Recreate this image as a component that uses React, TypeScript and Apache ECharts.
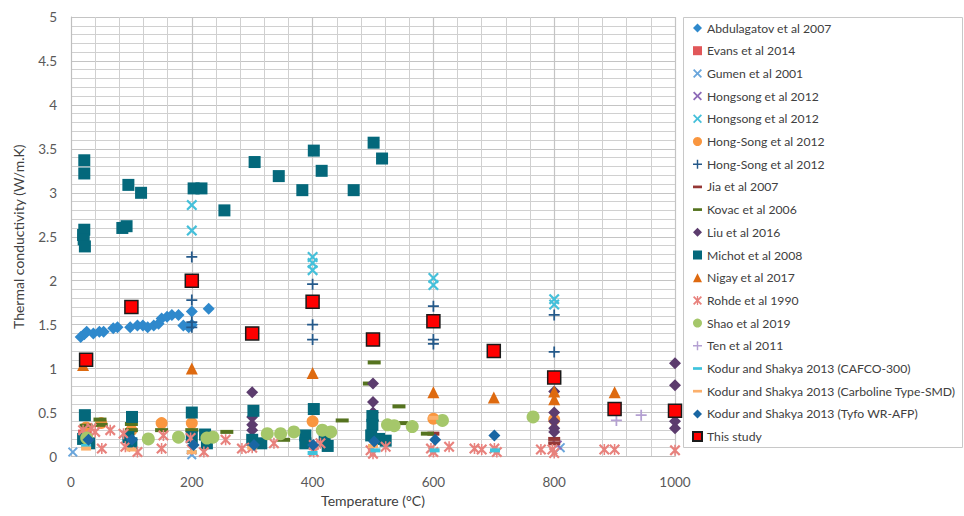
import React, { useEffect, useRef } from 'react';
import * as echarts from 'echarts';

// ---------- data (Temperature °C, Thermal conductivity W/m.K) ----------
const abdulagatov = [[16,1.36],[22,1.39],[26,1.42],[37,1.40],[47,1.42],[54,1.42],[70,1.46],[77,1.47],[98,1.47],[110,1.49],[119,1.49],[127,1.47],[137,1.49],[145,1.51],[150,1.57],[159,1.59],[167,1.61],[178,1.61],[186,1.49],[195,1.47],[200,1.65],[200,1.50],[228,1.68]];
const evans = [[20,0.25],[26,0.32]];
const gumen = [[3,0.05],[200,0.02],[810,0.1]];
const hongsongPurple = [[805,0.13]];
const hongsongCyan = [[200,2.86],[200,2.57],[400,2.27],[400,2.2],[400,2.12],[600,2.03],[600,1.95],[800,1.79],[800,1.73]];
const hongSongOrange = [[25,0.33],[50,0.38],[100,0.3],[150,0.38],[200,0.38],[400,0.4],[600,0.43],[800,0.42]];
const hongSongPlus = [[200,2.27],[200,1.78],[200,1.53],[200,1.47],[400,1.96],[400,1.5],[400,1.33],[600,1.71],[600,1.33],[600,1.28],[800,1.61],[800,1.19]];
const jia = [[600,0.26],[800,0.2],[800,0.15]];
const kovac = [[25,0.35],[48,0.42],[50,0.36],[100,0.37],[100,0.3],[150,0.3],[200,0.3],[258,0.28],[352,0.19],[449,0.41],[494,0.83],[502,1.07],[543,0.57],[547,0.38],[590,0.26]];
const liu = [[300,0.73],[300,0.45],[300,0.36],[300,0.3],[500,0.83],[500,0.62],[500,0.5],[500,0.41],[800,0.74],[800,0.5],[800,0.4],[800,0.32],[800,0.28],[1000,1.06],[1000,0.81],[1000,0.4],[1000,0.32]];
const michot = [[22,3.37],[22,3.22],[22,2.58],[20,2.52],[21,2.47],[23,2.39],[85,2.6],[92,2.62],[95,3.09],[116,3.0],[203,3.05],[216,3.05],[254,2.8],[304,3.35],[344,3.19],[383,3.03],[402,3.48],[415,3.25],[468,3.03],[501,3.57],[515,3.39],[23,0.47],[20,0.2],[30,0.15],[101,0.45],[95,0.22],[100,0.15],[200,0.5],[200,0.22],[222,0.25],[225,0.15],[302,0.52],[300,0.19],[315,0.15],[402,0.54],[388,0.24],[388,0.15],[420,0.18],[425,0.12],[499,0.46],[499,0.36],[497,0.24],[510,0.2],[521,0.18]];
const nigay = [[20,1.04],[200,1.0],[400,0.95],[600,0.73],[700,0.67],[800,0.74],[800,0.65],[900,0.73]];
const rohde = [[20,0.3],[34,0.32],[40,0.28],[51,0.09],[65,0.3],[87,0.26],[90,0.11],[110,0.05],[150,0.09],[153,0.24],[198,0.21],[200,0.08],[220,0.05],[256,0.19],[283,0.09],[300,0.1],[336,0.15],[402,0.13],[402,0.05],[413,0.15],[496,0.07],[500,0.03],[521,0.11],[596,0.09],[600,0.05],[626,0.11],[668,0.09],[680,0.08],[701,0.09],[705,0.05],[778,0.08],[797,0.08],[800,0.04],[883,0.08],[900,0.08],[1000,0.07]];
const shao = [[26,0.21],[128,0.2],[178,0.22],[225,0.21],[235,0.22],[325,0.26],[347,0.26],[369,0.28],[416,0.3],[430,0.28],[524,0.36],[535,0.35],[565,0.34],[615,0.41],[765,0.45]];
const ten = [[903,0.41],[944,0.47]];
const cafco = [[25,0.12],[200,0.05],[400,0.04],[504,0.07],[602,0.07],[702,0.07]];
const carboline = [[25,0.09],[100,0.08],[200,0.05],[300,0.1],[500,0.12],[600,0.44]];
const tyfo = [[29,0.19],[101,0.19],[203,0.13],[303,0.13],[401,0.13],[502,0.17],[603,0.19],[701,0.24]];
const thisStudy = [[25,1.1],[100,1.7],[200,2.0],[300,1.4],[400,1.76],[500,1.33],[600,1.54],[700,1.2],[800,0.9],[900,0.54],[1000,0.52]];

const xTitle = 'Temperature (°C)';
const yTitle = 'Thermal conductivity (W/m.K)';

// ---------- symbols ----------
const X_SYM = 'path://M0,1.4L1.4,0L5,3.6L8.6,0L10,1.4L6.4,5L10,8.6L8.6,10L5,6.4L1.4,10L0,8.6L3.6,5Z';
const STAR_SYM = 'path://M0,1.4L1.4,0L5,3.6L8.6,0L10,1.4L6.4,5L10,8.6L8.6,10L5,6.4L1.4,10L0,8.6L3.6,5Z M4.3,0H5.7V10H4.3Z';
const PLUS_SYM = 'path://M4.2,0H5.8V4.2H10V5.8H5.8V10H4.2V5.8H0V4.2H4.2Z';
const DASH_ICON = 'path://M0,0H10V3H0Z';

const FONT = 'Lato, "Open Sans", sans-serif';

type Def = { name: string; data: number[][]; symbol: string; size: number | number[]; color: string; border?: string; icon?: string };

const defs: Def[] = [
  { name: 'Abdulagatov et al 2007', data: abdulagatov, symbol: 'diamond', size: 12, color: '#2F89CC' },
  { name: 'Evans et al 2014', data: evans, symbol: 'rect', size: 10, color: '#E15759' },
  { name: 'Gumen et al 2001', data: gumen, symbol: X_SYM, size: 10, color: '#6AA6DC' },
  { name: 'Hongsong et al 2012', data: hongsongPurple, symbol: X_SYM, size: 10, color: '#8E6BB8' },
  { name: 'Hongsong et al 2012 ', data: hongsongCyan, symbol: X_SYM, size: 11, color: '#45C0DA' },
  { name: 'Hong-Song et al 2012', data: hongSongOrange, symbol: 'circle', size: 12, color: '#F9963F' },
  { name: 'Hong-Song et al 2012 ', data: hongSongPlus, symbol: PLUS_SYM, size: 11, color: '#24598A' },
  { name: 'Jia et al 2007', data: jia, symbol: 'rect', size: [12, 4], color: '#953735', icon: DASH_ICON },
  { name: 'Kovac et al 2006', data: kovac, symbol: 'rect', size: [13, 4], color: '#55731F', icon: DASH_ICON },
  { name: 'Liu et al 2016', data: liu, symbol: 'diamond', size: 12, color: '#5C3C6E' },
  { name: 'Michot et al 2008', data: michot, symbol: 'rect', size: 12, color: '#04687B' },
  { name: 'Nigay et al 2017', data: nigay, symbol: 'triangle', size: 12, color: '#DE6A10' },
  { name: 'Rohde et al 1990', data: rohde, symbol: STAR_SYM, size: 11, color: '#E8827D' },
  { name: 'Shao et al 2019', data: shao, symbol: 'circle', size: 13, color: '#A5C76A' },
  { name: 'Ten et al 2011', data: ten, symbol: PLUS_SYM, size: 11, color: '#B4A0D2' },
  { name: 'Kodur and Shakya 2013 (CAFCO-300)', data: cafco, symbol: 'rect', size: [10, 4], color: '#3FC3DC', icon: DASH_ICON },
  { name: 'Kodur and Shakya 2013 (Carboline Type-SMD)', data: carboline, symbol: 'rect', size: [10, 4], color: '#FBB06C', icon: DASH_ICON },
  { name: 'Kodur and Shakya 2013 (Tyfo WR-AFP)', data: tyfo, symbol: 'diamond', size: 12, color: '#1966A3' },
  { name: 'This study', data: thisStudy, symbol: 'rect', size: 13, color: '#FF0000', border: '#1a1a1a' },
];

export default function App() {
  const ref = useRef<HTMLDivElement>(null);
  useEffect(() => {
    const chart = echarts.init(ref.current!, null, { renderer: 'svg' });
    const series = defs.map((d) => ({
      type: 'scatter',
      name: d.name,
      data: d.data,
      symbol: d.symbol,
      symbolSize: d.size,
      itemStyle: d.border
        ? { color: d.color, borderColor: d.border, borderWidth: 1.5, opacity: 1 }
        : { color: d.color, opacity: 1 },
      emphasis: { disabled: true },
    }));
    const option: any = {
      animation: false,
      backgroundColor: '#ffffff',
      textStyle: { fontFamily: FONT },
      grid: { left: 71, right: 289, top: 17, bottom: 59.5, containLabel: false },
      xAxis: {
        type: 'value', min: 0, max: 1000, interval: 200,
        name: xTitle, nameLocation: 'middle', nameGap: 36,
        nameTextStyle: { fontSize: 14, color: '#404040', fontFamily: FONT },
        axisLine: { show: true, lineStyle: { color: '#bfbfbf', width: 1 } },
        axisTick: { show: false },
        axisLabel: { fontSize: 13.5, color: '#595959', margin: 18, fontFamily: FONT, formatter: (v: number) => String(v) },
        splitLine: { show: true, lineStyle: { color: '#c4c4c4', width: 1.2 } },
        minorTick: { show: false, splitNumber: 5 },
        minorSplitLine: { show: true, lineStyle: { color: '#d0d0d0', width: 1 } },
      },
      yAxis: {
        type: 'value', min: 0, max: 5, interval: 0.5,
        name: yTitle, nameLocation: 'middle', nameGap: 46, nameRotate: 90,
        nameTextStyle: { fontSize: 14, color: '#404040', fontFamily: FONT },
        axisLine: { show: true, lineStyle: { color: '#bfbfbf', width: 1 } },
        axisTick: { show: false },
        axisLabel: { fontSize: 13.5, color: '#595959', margin: 14, fontFamily: FONT },
        splitLine: { show: true, lineStyle: { color: '#c4c4c4', width: 1.2 } },
        minorTick: { show: false, splitNumber: 5 },
        minorSplitLine: { show: true, lineStyle: { color: '#d0d0d0', width: 1 } },
      },
      legend: {
        orient: 'vertical',
        left: 692, top: 22,
        itemWidth: 9, itemHeight: 9, itemGap: 10.7,
        padding: 0,
        selectedMode: false,
        textStyle: { fontSize: 12.2, color: '#404040', fontFamily: FONT },
        data: defs.map((d) => (d.icon ? { name: d.name, icon: d.icon } : { name: d.name })),
      },
      graphic: [
        {
          type: 'rect', silent: true,
          shape: { x: 683.5, y: 17.5, width: 279, height: 430 },
          style: { fill: 'none', stroke: '#c8c8c8', lineWidth: 1 },
        },
      ],
      series,
    };
    chart.setOption(option);
    return () => chart.dispose();
  }, []);
  return (
    <div
      ref={ref}
      style={{ position: 'absolute', left: 0, top: 0, width: 964, height: 516, background: '#fff' }}
    />
  );
}
